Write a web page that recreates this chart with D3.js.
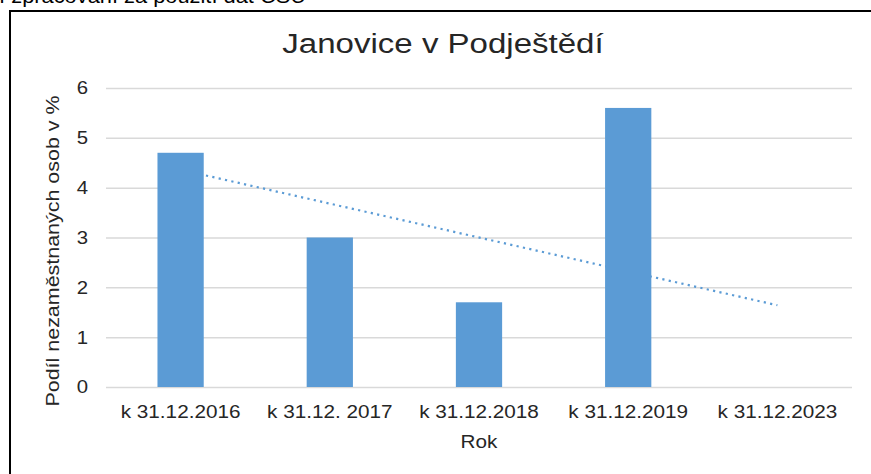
<!DOCTYPE html>
<html>
<head>
<meta charset="utf-8">
<script src="https://cdn.jsdelivr.net/npm/d3@7"></script>
<style>
  body { margin: 0; background: #fff; }
  svg text { font-family: "Liberation Sans", Arial, sans-serif; fill: #262626; }
</style>
</head>
<body>
<div id="chart"></div>
<script>
// data
const categories = ['k 31.12.2016', 'k 31.12. 2017', 'k 31.12.2018', 'k 31.12.2019', 'k 31.12.2023'];
const values = [4.7, 3.0, 1.7, 5.6, 0];
const yTicks = [0, 1, 2, 3, 4, 5, 6];
const title = 'Janovice v Podještědí';
const xTitle = 'Rok';
const yTitle = 'Podíl nezaměstnaných osob v %';
const sourceNote = 'Zdroj: vlastní zpracování za použití dat ČSÚ';

const W = 871, H = 474;
const margin = { top: 88, right: 19, bottom: 87, left: 106 },
  width = W - margin.left - margin.right,
  height = H - margin.top - margin.bottom;

const svg = d3.select('#chart').append('svg')
  .attr('width', W)
  .attr('height', H);

// caption above the frame, mostly scrolled out of view in the original
svg.append('text')
  .attr('transform', 'translate(306,3) scale(1.12,1)')
  .attr('text-anchor', 'end')
  .style('font-size', '19.5px')
  .style('fill', '#000')
  .text(sourceNote);

// frame
svg.append('rect')
  .attr('x', 10).attr('y', 11)
  .attr('width', 900).attr('height', 500)
  .attr('fill', 'none')
  .attr('stroke', '#000')
  .attr('stroke-width', 2);

svg.append('text')
  .attr('transform', 'translate(443,53) scale(1.18,1)')
  .attr('text-anchor', 'middle')
  .style('font-size', '28px')
  .text(title);

const g = svg.append('g').attr('transform', `translate(${margin.left},${margin.top})`);

const x = d3.scaleBand().domain(categories).range([0, width]).padding(0);
const y = d3.scaleLinear().domain([0, 6]).range([height, 0]);
const barW = x.bandwidth() * 0.31;

// gridlines + y labels
const yAxis = g.append('g')
  .call(d3.axisLeft(y).tickValues(yTicks).tickSize(-width).tickFormat(d3.format('d')));
yAxis.select('.domain').remove();
yAxis.selectAll('.tick line').attr('stroke', '#d9d9d9').attr('stroke-width', 1.5);
yAxis.selectAll('.tick text')
  .attr('x', 0)
  .attr('transform', 'translate(-18,0) scale(1.1,1)')
  .style('font-size', '18.5px');

// trendline (linear regression over all categories), drawn under bars
const xs = values.map((d, i) => i + 1);
const mx = d3.mean(xs), my = d3.mean(values);
const slope = d3.sum(xs, (xi, i) => (xi - mx) * (values[i] - my)) / d3.sum(xs, xi => (xi - mx) ** 2);
const icpt = my - slope * mx;
const trend = [1, categories.length].map(xi => ({ c: categories[xi - 1], v: icpt + slope * xi }));
g.append('path')
  .datum(trend)
  .attr('fill', 'none')
  .attr('stroke', '#5b9bd5')
  .attr('stroke-width', 2.2)
  .attr('stroke-dasharray', '2.2,4.3')
  .attr('d', d3.line().x(d => x(d.c) + x.bandwidth() / 2).y(d => y(d.v)));

// bars
g.selectAll('rect.bar')
  .data(categories.map((c, i) => ({ c, v: values[i] })))
  .join('rect')
  .attr('class', 'bar')
  .attr('x', d => x(d.c) + (x.bandwidth() - barW) / 2)
  .attr('width', barW)
  .attr('y', d => y(d.v))
  .attr('height', d => height - y(d.v))
  .attr('fill', '#5b9bd5');

// x axis
const xAxis = g.append('g')
  .attr('transform', `translate(0,${height})`)
  .call(d3.axisBottom(x).tickSize(0));
xAxis.select('.domain').remove();
xAxis.selectAll('.tick text')
  .attr('y', 0).attr('dy', 0)
  .attr('transform', 'translate(0,31) scale(1.12,1)')
  .style('font-size', '18.5px');

// axis titles
g.append('text')
  .attr('transform', `translate(${width / 2},${height + 61}) scale(1.12,1)`)
  .attr('text-anchor', 'middle')
  .style('font-size', '18.5px')
  .text(xTitle);

svg.append('text')
  .attr('transform', 'translate(59,251) rotate(-90) scale(1.16,1)')
  .attr('text-anchor', 'middle')
  .style('font-size', '18.5px')
  .text(yTitle);
</script>
</body>
</html>
